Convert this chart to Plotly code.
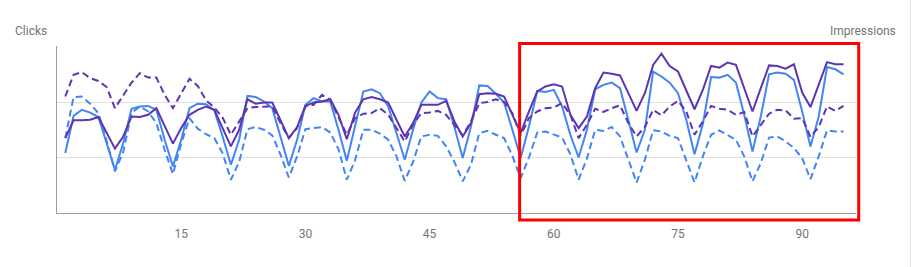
import plotly.graph_objects as go

days = list(range(1, 96))

clicks = [108,175,186,181,173,126,78,126,188,192,193,186,132,84,132,189,197,196,185,138,
          87,132,211,209,201,189,138,85,132,195,207,201,201,150,94,159,219,223,216,192,
          144,96,150,199,219,207,205,155,99,156,230,229,215,199,150,99,156,220,218,222,
          192,141,100,150,223,231,235,225,168,109,150,255,246,235,216,168,106,160,245,244,
          249,235,177,111,174,250,253,251,240,183,120,174,263,259,250]

impressions = [135,167,167,168,173,144,116,138,174,173,177,189,156,125,153,177,186,192,186,153,
               120,150,205,197,199,199,168,135,155,193,199,201,205,177,133,181,205,209,205,199,
               168,138,162,195,195,195,202,165,138,162,214,216,215,210,177,144,183,219,228,232,
               228,177,153,174,225,253,251,248,216,184,216,267,287,265,255,222,187,222,265,262,
               271,267,225,183,225,266,265,260,268,217,191,231,272,268,268]

clicks_prev = [135,209,210,197,180,130,75,110,180,192,183,162,114,70,125,171,152,142,135,108,
               60,92,151,155,150,140,105,64,102,151,153,155,145,115,60,95,150,150,143,132,
               102,58,92,138,141,139,120,92,57,87,144,148,141,135,103,63,100,145,147,141,
               136,106,60,98,150,148,155,138,96,55,96,149,147,139,135,96,55,102,141,149,
               141,132,102,57,90,136,138,129,117,99,61,102,149,147,147]

impressions_prev = [210,249,254,243,238,227,189,213,235,252,244,244,213,189,216,242,229,203,190,172,
                    141,165,189,191,191,192,162,135,153,192,195,213,204,174,141,171,179,180,189,177,
                    153,129,159,180,181,184,177,159,140,165,198,200,205,200,180,140,171,183,189,190,
                    198,177,135,159,188,182,189,194,162,138,155,186,176,192,202,183,141,165,193,188,
                    186,177,182,138,159,179,186,185,170,171,137,155,192,184,193]

x_ticks = [15, 30, 45, 60, 75, 90]

BLUE = "#4285f4"
PURPLE = "#5e35b1"
GREY = "#757575"

fig = go.Figure()
fig.add_trace(go.Scatter(x=days, y=clicks_prev, mode="lines", name="Clicks (previous)",
                         line=dict(color=BLUE, width=2, dash="7px,4px"), yaxis="y"))
fig.add_trace(go.Scatter(x=days, y=impressions_prev, mode="lines", name="Impressions (previous)",
                         line=dict(color=PURPLE, width=2, dash="7px,4px"), yaxis="y2"))
fig.add_trace(go.Scatter(x=days, y=impressions, mode="lines", name="Impressions",
                         line=dict(color=PURPLE, width=2), yaxis="y2"))
fig.add_trace(go.Scatter(x=days, y=clicks, mode="lines", name="Clicks",
                         line=dict(color=BLUE, width=2), yaxis="y"))

fig.update_layout(
    width=915, height=267,
    margin=dict(l=57, r=59, t=46, b=54),
    paper_bgcolor="white", plot_bgcolor="white",
    showlegend=False,
    font=dict(family="Roboto", size=12, color=GREY),
    xaxis=dict(range=[0, 96.5], tickvals=x_ticks, showgrid=False, zeroline=False,
               showline=True, linecolor="#9e9e9e", linewidth=1, ticks="",
               ticklabelstandoff=10, tickfont=dict(size=12, color=GREY)),
    yaxis=dict(range=[0, 301], tickvals=[100, 200, 300], showticklabels=False,
               showgrid=True, gridcolor="#e0e0e0", gridwidth=1, zeroline=False,
               showline=True, linecolor="#9e9e9e", linewidth=1),
    yaxis2=dict(range=[0, 301], overlaying="y", side="right", showticklabels=False,
                showgrid=False, zeroline=False, showline=False),
    annotations=[
        dict(text="Clicks", xref="paper", yref="paper", x=-0.0555, y=1.090,
             xanchor="left", yanchor="middle", showarrow=False,
             font=dict(size=12, color=GREY)),
        dict(text="Impressions", xref="paper", yref="paper", x=1.0525, y=1.090,
             xanchor="right", yanchor="middle", showarrow=False,
             font=dict(size=12, color=GREY)),
    ],
    shapes=[
        dict(type="rect", xref="paper", yref="paper", x0=0.579, x1=1.0034,
             y0=-0.042, y1=1.015, line=dict(color="#ff0000", width=3)),
        dict(type="line", xref="paper", yref="paper", x0=1.068, x1=1.068,
             y0=-0.33, y1=1.3, line=dict(color="#e3e3e3", width=1)),
    ],
)

fig.write_html("out.html", config={"displayModeBar": False})
